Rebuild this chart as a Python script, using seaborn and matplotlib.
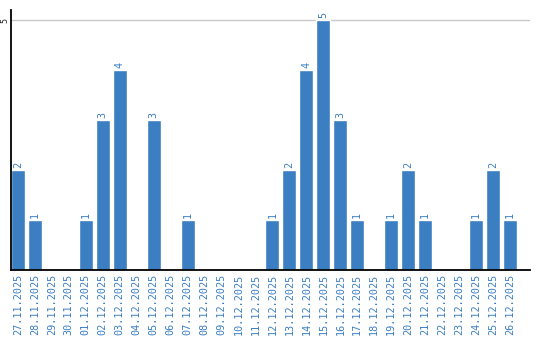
import matplotlib
matplotlib.use("Agg")
import matplotlib.pyplot as plt
import seaborn as sns
import pandas as pd

dates = ["27.11.2025", "28.11.2025", "29.11.2025", "30.11.2025", "01.12.2025",
         "02.12.2025", "03.12.2025", "04.12.2025", "05.12.2025", "06.12.2025",
         "07.12.2025", "08.12.2025", "09.12.2025", "10.12.2025", "11.12.2025",
         "12.12.2025", "13.12.2025", "14.12.2025", "15.12.2025", "16.12.2025",
         "17.12.2025", "18.12.2025", "19.12.2025", "20.12.2025", "21.12.2025",
         "22.12.2025", "23.12.2025", "24.12.2025", "25.12.2025", "26.12.2025"]
counts = [2, 1, 0, 0, 1, 3, 4, 0, 3, 0, 1, 0, 0, 0, 0,
          1, 2, 4, 5, 3, 1, 0, 1, 2, 1, 0, 0, 1, 2, 1]
y_ticks = [5]

BLUE = "#3b7ec2"
df = pd.DataFrame({"date": dates, "count": counts})

sns.set_style("white")
plt.rcParams["font.family"] = ["DejaVu Sans Mono", "DejaVu Sans"]

fig = plt.figure(figsize=(5.4, 3.4), dpi=100)
ax = fig.add_axes([11 / 540, 70 / 340, 519 / 540, 260 / 340])

sns.barplot(data=df, x="date", y="count", color=BLUE, width=0.82,
            saturation=1, ax=ax, zorder=3)

ax.set_ylim(0, 5.2)
ax.set_xlim(-0.41, len(dates) - 1 + 1.18)
ax.set_yticks(y_ticks)
ax.set_yticklabels([str(t) for t in y_ticks], rotation=90, va="center",
                   fontsize=6, color="#222222")
ax.tick_params(axis="y", length=0, pad=1)
ax.tick_params(axis="x", length=0, pad=3)
ax.set_xticks(range(len(dates)))
ax.set_xticklabels(dates, rotation=90, fontsize=7.3, color=BLUE)
ax.set_xlabel("")
ax.set_ylabel("")
ax.grid(axis="y", color="#c8c8c8", linewidth=1, zorder=0)

for s in ["top", "right"]:
    ax.spines[s].set_visible(False)
for s in ["left", "bottom"]:
    ax.spines[s].set_color("black")
    ax.spines[s].set_linewidth(1.3)
    ax.spines[s].set_zorder(4)

for i, v in enumerate(counts):
    if v > 0:
        ax.text(i, v + 0.04, str(v), rotation=90, ha="center", va="bottom",
                fontsize=7.3, color=BLUE)

fig.savefig("out.png", dpi=100)
